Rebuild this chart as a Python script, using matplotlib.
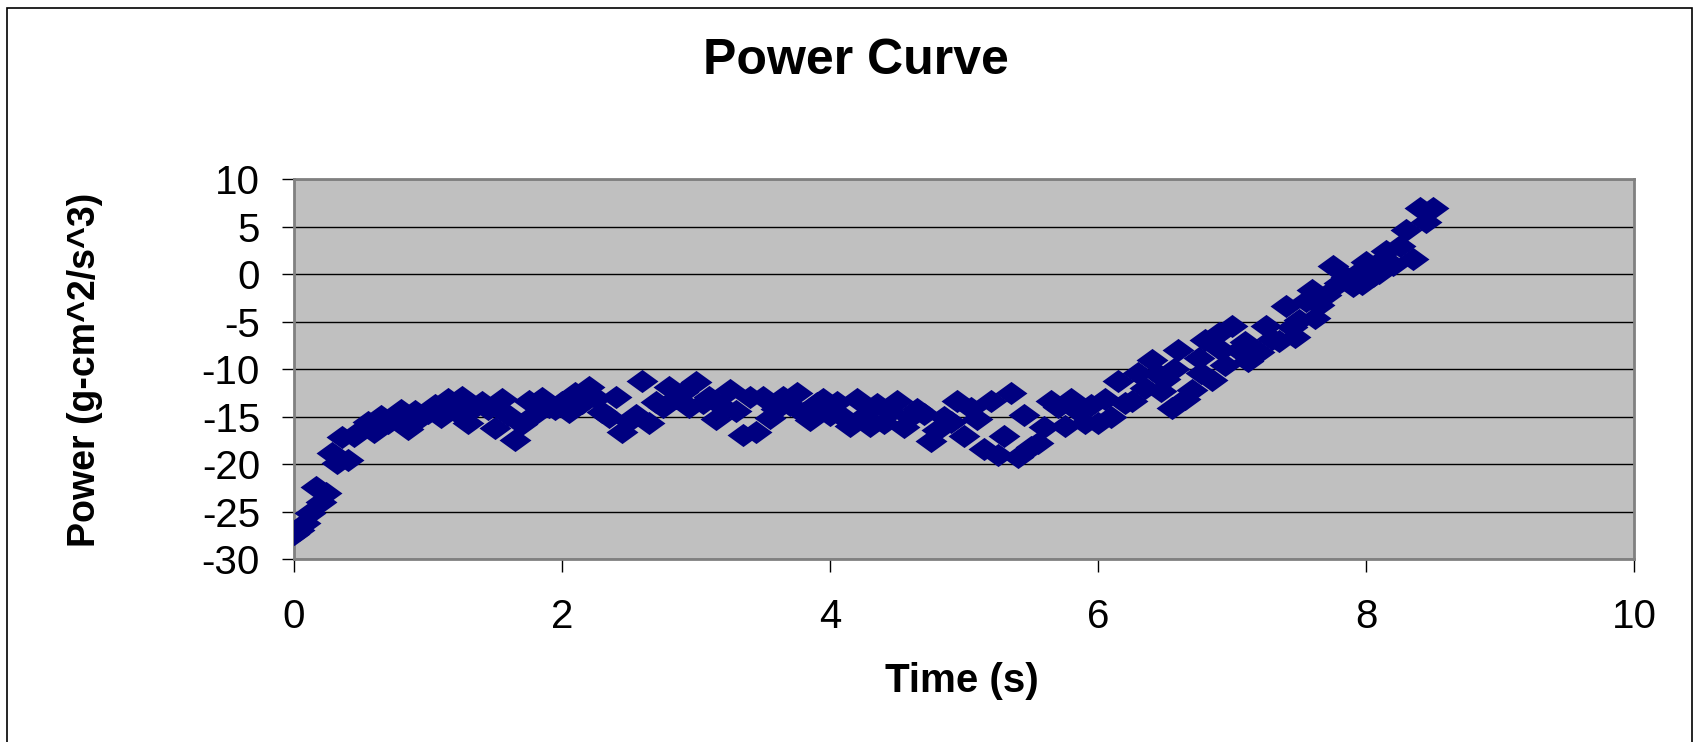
import matplotlib
matplotlib.use("Agg")
from matplotlib import pyplot as plt
from matplotlib.path import Path
from matplotlib.patches import Rectangle

plt.rcParams['font.family'] = ['Liberation Sans', 'DejaVu Sans']
plt.rcParams['axes.unicode_minus'] = False

# time (s)
time_s = [0.00, 0.04, 0.08, 0.12, 0.16, 0.20, 0.24, 0.28, 0.32, 0.36,
          0.40, 0.45, 0.50, 0.55, 0.60, 0.65, 0.70, 0.75, 0.80, 0.85,
          0.90, 0.95, 1.00, 1.05, 1.10, 1.15, 1.20, 1.25, 1.30, 1.35,
          1.40, 1.45, 1.50, 1.55, 1.60, 1.65, 1.70, 1.75, 1.80, 1.85,
          1.90, 1.95, 2.00, 2.05, 2.10, 2.15, 2.20, 2.25, 2.30, 2.35,
          2.40, 2.45, 2.50, 2.55, 2.60, 2.65, 2.70, 2.75, 2.80, 2.85,
          2.90, 2.95, 3.00, 3.05, 3.10, 3.15, 3.20, 3.25, 3.30, 3.35,
          3.40, 3.45, 3.50, 3.55, 3.60, 3.65, 3.70, 3.75, 3.80, 3.85,
          3.90, 3.95, 4.00, 4.05, 4.10, 4.15, 4.20, 4.25, 4.30, 4.35,
          4.40, 4.45, 4.50, 4.55, 4.60, 4.65, 4.70, 4.75, 4.80, 4.85,
          4.90, 4.95, 5.00, 5.05, 5.10, 5.15, 5.20, 5.25, 5.30, 5.35,
          5.40, 5.45, 5.50, 5.55, 5.60, 5.65, 5.70, 5.75, 5.80, 5.85,
          5.90, 5.95, 6.00, 6.05, 6.10, 6.15, 6.20, 6.25, 6.30, 6.35,
          6.40, 6.45, 6.47, 6.50, 6.55, 6.57, 6.60, 6.65, 6.70, 6.75,
          6.77, 6.80, 6.85, 6.90, 6.92, 6.95, 7.00, 7.05, 7.10, 7.12,
          7.15, 7.20, 7.25, 7.30, 7.35, 7.40, 7.45, 7.47, 7.50, 7.55,
          7.60, 7.62, 7.65, 7.70, 7.75, 7.80, 7.85, 7.90, 7.95, 7.97,
          8.00, 8.05, 8.10, 8.12, 8.15, 8.20, 8.25, 8.30, 8.35, 8.40,
          8.45, 8.50]

# power (g-cm^2/s^3)
power = [-27.4, -26.9, -26.2, -25.2, -22.4, -24.0, -23.0, -18.8, -19.9, -17.2,
         -19.6, -17.0, -16.4, -15.6, -16.6, -14.9, -15.7, -15.2, -14.3, -16.3,
         -14.4, -15.0, -14.6, -13.8, -15.0, -13.2, -14.4, -12.9, -15.7, -14.0,
         -13.5, -14.2, -16.2, -13.2, -14.8, -17.5, -15.8, -13.4, -14.7, -13.1,
         -14.0, -14.2, -13.5, -14.5, -12.5, -13.6, -11.9, -13.0, -14.5, -15.0,
         -12.9, -16.6, -15.5, -14.8, -11.3, -15.7, -13.5, -14.0, -11.9, -13.0,
         -12.4, -14.0, -11.4, -13.6, -12.9, -15.3, -14.0, -12.2, -14.4, -16.9,
         -12.9, -16.6, -12.9, -15.2, -14.2, -12.9, -13.8, -12.5, -14.6, -15.4,
         -13.6, -13.2, -14.8, -13.5, -15.0, -16.0, -13.2, -14.9, -16.0, -13.7,
         -15.7, -14.5, -13.4, -16.1, -15.0, -14.2, -14.7, -17.6, -16.4, -15.0,
         -15.6, -13.4, -17.0, -14.1, -15.3, -18.4, -13.4, -19.1, -17.0, -12.5,
         -19.3, -14.8, -18.2, -17.8, -16.1, -13.4, -14.0, -16.0, -13.2, -14.4,
         -15.7, -13.8, -15.7, -13.2, -15.0, -11.3, -13.6, -13.4, -10.4, -12.0,
         -9.1, -10.5, -12.3, -11.0, -14.1, -10.0, -8.0, -13.2, -12.2, -8.8,
         -10.4, -6.9, -11.2, -6.2, -8.0, -9.6, -5.5, -8.0, -7.2, -9.2,
         -8.6, -8.2, -5.5, -6.8, -7.0, -3.4, -5.6, -6.6, -4.8, -2.8,
         -1.7, -4.6, -3.3, -2.2, 0.8, -0.9, -0.3, -1.3, 0.2, -1.0,
         1.3, -0.2, 0.1, 1.5, 2.4, 1.0, 2.9, 4.6, 1.6, 7.0,
         5.5, 7.0]

x_ticks = [0, 2, 4, 6, 8, 10]
y_ticks = [-30, -25, -20, -15, -10, -5, 0, 5, 10]

# Excel-like diamond, a bit wider than tall
diamond = Path([(-1.38, 0), (0, 1), (1.38, 0), (0, -1), (-1.38, 0)],
               [Path.MOVETO, Path.LINETO, Path.LINETO, Path.LINETO, Path.CLOSEPOLY])

fig = plt.figure(figsize=(16.94, 7.42), dpi=100)
fig.patches.append(Rectangle((0.0041, -0.1), 0.9947, 1.0892, transform=fig.transFigure,
                             fill=False, edgecolor='black', linewidth=1.2))

ax = fig.add_axes([0.1736, 0.2466, 0.791, 0.5121])
ax.set_facecolor('#C0C0C0')
ax.plot(time_s, power, linestyle='none', marker=diamond, markersize=23,
        color='#000080', markeredgewidth=0, zorder=3)

ax.set_xlim(0, 10)
ax.set_ylim(-30, 10)
ax.set_xticks(x_ticks)
ax.set_yticks(y_ticks)
ax.yaxis.grid(True, color='black', linewidth=1.0)
ax.set_axisbelow(True)
for s in ax.spines.values():
    s.set_color('#808080')
    s.set_linewidth(2)
ax.tick_params(axis='x', direction='out', length=9, width=1, pad=19, labelsize=29)
ax.tick_params(axis='y', direction='out', length=8.5, width=1, pad=16, labelsize=29)

fig.text(0.505, 0.918, 'Power Curve', ha='center', va='center',
         fontsize=36, fontweight='bold')
fig.text(0.568, 0.082, 'Time (s)', ha='center', va='center',
         fontsize=29, fontweight='bold')
fig.text(0.05, 0.501, 'Power (g-cm^2/s^3)', ha='center', va='center',
         rotation=90, fontsize=27, fontweight='bold')

plt.savefig('out.png', dpi=100)
